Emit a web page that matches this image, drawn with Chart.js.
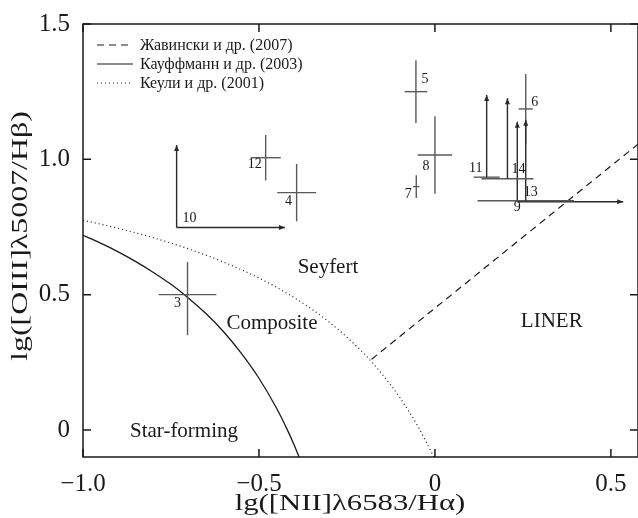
<!DOCTYPE html>
<html>
<head>
<meta charset="utf-8">
<script src="https://cdn.jsdelivr.net/npm/chart.js@4.4.1/dist/chart.umd.min.js"></script>
<style>
  html, body { margin: 0; padding: 0; background: #fff; }
  #wrap { width: 638px; height: 518px; }
</style>
</head>
<body>
<div id="wrap"><canvas id="bpt" width="638" height="518"></canvas></div>
<script>
// axis ticks
const xTicks = [-1.0, -0.5, 0, 0.5];
const xTickLabels = ['\u22121.0', '\u22120.5', '0', '0.5'];
const yTicks = [0, 0.5, 1.0, 1.5];
const yTickLabels = ['0', '0.5', '1.0', '1.5'];
const xTitle = 'lg([NII]λ6583/Hα)';
const yTitle = 'lg([OIII]λ5007/Hβ)';

// demarcation lines
const kauffX = [-1.0, -0.95, -0.9, -0.85, -0.8, -0.75, -0.7, -0.65, -0.6, -0.55, -0.5, -0.45, -0.42, -0.4, -0.386];
const kauffY = [0.719, 0.69, 0.658, 0.622, 0.582, 0.538, 0.487, 0.429, 0.362, 0.283, 0.191, 0.08, 0.002, -0.056, -0.1];
const kewleyX = [-1.0, -0.9, -0.8, -0.7, -0.6, -0.5, -0.4, -0.3, -0.2, -0.15, -0.1, -0.05, -0.003];
const kewleyY = [0.775, 0.745, 0.71, 0.669, 0.62, 0.561, 0.489, 0.398, 0.28, 0.206, 0.12, 0.017, -0.1];
const schawX = [-0.18, 0.577];
const schawY = [0.261, 1.056];

const legendNames = ['Жавински и др. (2007)', 'Кауффманн и др. (2003)', 'Кеули и др. (2001)'];

// objects
const objNames = ['3', '4', '5', '6', '7', '8', '9', '10', '11', '12', '13', '14'];
const objX     = [-0.703, -0.393, -0.054, 0.258, -0.053, 0.0, 0.234, -0.734, 0.147, -0.481, 0.258, 0.206];
const objY     = [0.50, 0.877, 1.25, 1.186, 0.899, 1.016, 0.843, 0.748, 0.934, 1.006, 0.847, 0.928];
const objXErr  = [0.082, 0.055, 0.032, 0.02, 0.009, 0.049, 0, 0, 0.037, 0.043, 0.137, 0.074];
const objYErrUp   = [0.12, 0.106, 0.116, 0.129, 0.042, 0.143, 0, 0, 0, 0.084, 0, 0];
const objYErrDown = [0.15, 0.106, 0.116, 0.129, 0.042, 0.143, 0, 0, 0, 0.084, 0, 0];
// lower limits: arrows end here (null = none)
const objXArrowTo = [null, null, null, null, null, null, 0.535, -0.426, null, null, null, null];
const objYArrowTo = [null, null, null, null, null, null, 1.139, 1.053, 1.238, null, 1.146, 1.226];

// region names
const regionNames = ['Seyfert', 'Composite', 'LINER', 'Star-forming'];
const regionX = [-0.304, -0.463, 0.332, -0.713];
const regionY = [0.599, 0.395, 0.399, -0.004];

// label offsets for the numbers, px
const numOffset = {
  '3': [-10, 9], '4': [-8, 9], '5': [9, -12], '6': [9, -7], '7': [-8, 8], '8': [-9, 11],
  '9': [0, 6], '10': [13, -9], '11': [-11, -9], '12': [-11, 7], '13': [5, -8], '14': [11, -9]
};

const serif = "'Liberation Serif', 'DejaVu Serif', serif";
const ink = '#1a1a1a';
const barColor = '#5a5a5a';

function toPoints(xs, ys) {
    return xs.map((x, i) => ({ x: x, y: ys[i] }));
}

function arrow(ctx, x0, y0, x1, y1) {
    ctx.beginPath();
    ctx.moveTo(x0, y0);
    ctx.lineTo(x1, y1);
    ctx.stroke();
    const a = Math.atan2(y1 - y0, x1 - x0);
    const len = 6, w = 2.5;
    ctx.beginPath();
    ctx.moveTo(x1, y1);
    ctx.lineTo(x1 - len * Math.cos(a) + w * Math.sin(a), y1 - len * Math.sin(a) - w * Math.cos(a));
    ctx.lineTo(x1 - len * Math.cos(a) - w * Math.sin(a), y1 - len * Math.sin(a) + w * Math.cos(a));
    ctx.closePath();
    ctx.fill();
}

const bptPlugin = {
    id: 'bpt',
    afterDatasetsDraw(chart) {
        const ctx = chart.ctx;
        const xs = chart.scales.x, ys = chart.scales.y;
        const area = chart.chartArea;
        ctx.save();

        // error bars and limits
        ctx.lineWidth = 1.4;
        objNames.forEach((name, i) => {
            const px = xs.getPixelForValue(objX[i]);
            const py = ys.getPixelForValue(objY[i]);
            ctx.strokeStyle = barColor;
            if (objXErr[i] > 0) {
                ctx.beginPath();
                ctx.moveTo(xs.getPixelForValue(objX[i] - objXErr[i]), py);
                ctx.lineTo(xs.getPixelForValue(objX[i] + objXErr[i]), py);
                ctx.stroke();
            }
            if (objYErrUp[i] > 0 || objYErrDown[i] > 0) {
                ctx.beginPath();
                ctx.moveTo(px, ys.getPixelForValue(objY[i] + objYErrUp[i]));
                ctx.lineTo(px, ys.getPixelForValue(objY[i] - objYErrDown[i]));
                ctx.stroke();
            }
            ctx.strokeStyle = '#2a2a2a';
            ctx.fillStyle = '#2a2a2a';
            if (objXArrowTo[i] !== null) {
                arrow(ctx, px, py, xs.getPixelForValue(objXArrowTo[i]), py);
            }
            if (objYArrowTo[i] !== null) {
                arrow(ctx, px, py, px, ys.getPixelForValue(objYArrowTo[i]));
            }
        });

        // numbers
        ctx.fillStyle = ink;
        ctx.font = '14px ' + serif;
        ctx.textAlign = 'center';
        ctx.textBaseline = 'middle';
        objNames.forEach((name, i) => {
            const off = numOffset[name];
            ctx.fillText(name, xs.getPixelForValue(objX[i]) + off[0], ys.getPixelForValue(objY[i]) + off[1]);
        });

        // regions
        ctx.font = '21px ' + serif;
        regionNames.forEach((name, i) => {
            ctx.fillText(name, xs.getPixelForValue(regionX[i]), ys.getPixelForValue(regionY[i]));
        });

        // legend
        ctx.font = '16px ' + serif;
        ctx.textAlign = 'left';
        const order = [2, 0, 1];
        legendNames.forEach((name, k) => {
            const ds = chart.data.datasets[order[k]];
            const ly = area.top + 21 + k * 19;
            const lx = area.left + 14;
            ctx.strokeStyle = ink;
            ctx.lineWidth = 1.2;
            ctx.setLineDash(ds.borderDash || []);
            ctx.beginPath();
            ctx.moveTo(lx, ly);
            ctx.lineTo(lx + 36, ly);
            ctx.stroke();
            ctx.setLineDash([]);
            ctx.fillText(name, lx + 43, ly + 1);
        });

        // frame and inward ticks
        ctx.strokeStyle = ink;
        ctx.lineWidth = 1.5;
        ctx.strokeRect(area.left, area.top, area.right - area.left, area.bottom - area.top);
        const tl = 8;
        ctx.beginPath();
        xTicks.forEach(v => {
            const p = xs.getPixelForValue(v);
            ctx.moveTo(p, area.bottom); ctx.lineTo(p, area.bottom - tl);
            ctx.moveTo(p, area.top); ctx.lineTo(p, area.top + tl);
        });
        yTicks.forEach(v => {
            const p = ys.getPixelForValue(v);
            ctx.moveTo(area.left, p); ctx.lineTo(area.left + tl, p);
            ctx.moveTo(area.right, p); ctx.lineTo(area.right - tl, p);
        });
        ctx.stroke();

        // axis titles, the source type is a little wide
        ctx.fillStyle = ink;
        ctx.font = '24px ' + serif;
        ctx.textAlign = 'center';
        ctx.textBaseline = 'middle';
        ctx.save();
        ctx.translate(350, 504);
        ctx.scale(1.28, 1);
        ctx.fillText(xTitle, 0, 0);
        ctx.restore();
        ctx.translate(21, 236);
        ctx.rotate(-Math.PI / 2);
        ctx.scale(1.33, 1);
        ctx.fillText(yTitle, 0, 0);
        ctx.restore();
    }
};

const ctx = document.getElementById('bpt').getContext('2d');
const bptChart = new Chart(ctx, {
    type: 'scatter',
    data: {
        datasets: [
            {
                label: legendNames[1],
                data: toPoints(kauffX, kauffY),
                showLine: true,
                borderColor: ink,
                borderWidth: 1.3,
                pointRadius: 0,
                cubicInterpolationMode: 'monotone'
            },
            {
                label: legendNames[2],
                data: toPoints(kewleyX, kewleyY),
                showLine: true,
                borderColor: ink,
                borderWidth: 1.2,
                borderDash: [1, 3],
                pointRadius: 0,
                cubicInterpolationMode: 'monotone'
            },
            {
                label: legendNames[0],
                data: toPoints(schawX, schawY),
                showLine: true,
                borderColor: ink,
                borderWidth: 1.2,
                borderDash: [7, 5],
                pointRadius: 0
            },
            {
                label: 'objects',
                data: toPoints(objX, objY),
                pointRadius: 0
            }
        ]
    },
    options: {
        responsive: false,
        animation: false,
        layout: { padding: { top: 24, right: 0, left: 0, bottom: 0 } },
        plugins: {
            legend: { display: false },
            tooltip: { enabled: false }
        },
        scales: {
            x: {
                type: 'linear',
                min: -1.0,
                max: 0.577,
                afterFit(s) { s.height = 61; },
                afterBuildTicks(s) { s.ticks = xTicks.map(v => ({ value: v })); },
                grid: { display: false },
                border: { display: false },
                ticks: {
                    padding: 4,
                    color: ink,
                    font: { family: serif, size: 25 },
                    maxRotation: 0,
                    callback: (v) => xTickLabels[xTicks.indexOf(v)]
                }
            },
            y: {
                type: 'linear',
                min: -0.1,
                max: 1.5,
                afterFit(s) { s.width = 83; },
                afterBuildTicks(s) { s.ticks = yTicks.map(v => ({ value: v })); },
                grid: { display: false },
                border: { display: false },
                ticks: {
                    padding: 5,
                    color: ink,
                    font: { family: serif, size: 25 },
                    callback: (v) => yTickLabels[yTicks.indexOf(v)]
                }
            }
        }
    },
    plugins: [bptPlugin]
});
</script>
</body>
</html>
